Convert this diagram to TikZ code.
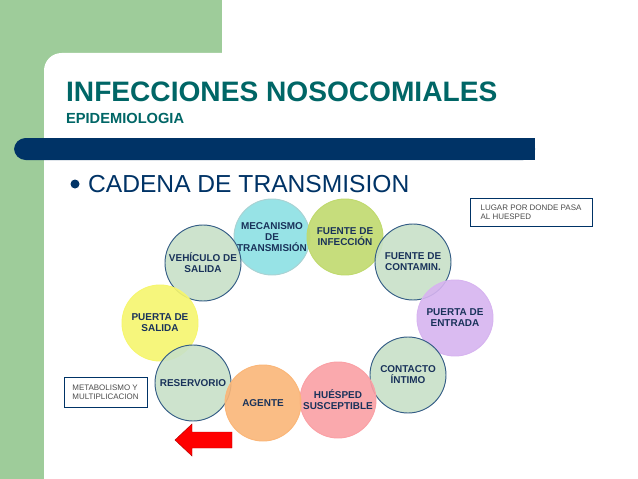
\documentclass[tikz,border=0pt]{standalone}
\usepackage{fontspec}
\setmainfont{Liberation Sans}
\definecolor{sidegreen}{RGB}{158,204,154}
\definecolor{titleteal}{RGB}{0,102,102}
\definecolor{barblue}{RGB}{0,51,102}
\definecolor{ringtext}{RGB}{25,50,90}
\definecolor{palegreen}{RGB}{200,225,200}
\definecolor{mecfill}{RGB}{140,225,228}
\definecolor{finfill}{RGB}{192,218,110}
\definecolor{psafill}{RGB}{246,246,110}
\definecolor{penfill}{RGB}{215,180,240}
\definecolor{huefill}{RGB}{250,160,165}
\definecolor{agefill}{RGB}{250,182,120}
\tikzstyle{ring} = [circle, minimum size=2.28cm, inner sep=0pt, align=center, font=\bfseries\fontsize{8.5}{9.5}\selectfont, text=ringtext, fill opacity=0.9, text opacity=1, line width=0.8pt]
\tikzstyle{plain} = [ring, draw=barblue!80, fill=palegreen]
\tikzstyle{note} = [draw=barblue, line width=0.6pt, align=left, inner sep=3pt, font=\fontsize{6.8}{7.8}\selectfont, text=black!70]

\begin{document}
\begin{tikzpicture}[x=0.03cm, y=-0.03cm]
\useasboundingbox (0,0) rectangle (638,479);

% background
\fill[sidegreen] (0,0) rectangle (222,200);
\fill[sidegreen] (0,0) rectangle (50,479);
\fill[white, rounded corners=15] (44,53) rectangle (660,500);
\fill[barblue, rounded corners=10] (14,138) rectangle (535,160);
\fill[barblue] (30,138) rectangle (535,160);

% titles
\node (title) [anchor=west, text=titleteal, font=\bfseries\fontsize{24}{26}\selectfont] at (62,92) {INFECCIONES NOSOCOMIALES};
\node (sub) [anchor=west, text=titleteal, font=\bfseries\fontsize{12.5}{14}\selectfont] at (62,118) {EPIDEMIOLOGIA};
\fill[barblue] (75,184) circle (4.5);
\node (head) [anchor=west, text=barblue, font=\fontsize{21}{24}\selectfont] at (84,184) {CADENA DE TRANSMISION};

% chain
\node (mec) [ring, draw=mecfill!80!black!60, fill=mecfill] at (272,237) {MECANISMO\\DE\\TRANSMISIÓN};
\node (fin) [ring, draw=finfill, fill=finfill] at (345,237) {FUENTE DE\\INFECCIÓN};
\node (veh) [plain] at (203,263) {VEHÍCULO DE\\SALIDA};
\node (fco) [plain] at (413,262) {FUENTE DE\\CONTAMIN.};
\node (psa) [ring, draw=psafill, fill=psafill] at (160,323) {PUERTA DE\\SALIDA};
\node (pen) [ring, draw=penfill, fill=penfill] at (455,318) {PUERTA DE\\ENTRADA};
\node (con) [plain] at (408,375) {CONTACTO\\ÍNTIMO};
\node (res) [plain] at (193,383) {RESERVORIO};
\node (hue) [ring, draw=huefill, fill=huefill] at (338,400) {HUÉSPED\\SUSCEPTIBLE};
\node (age) [ring, draw=agefill, fill=agefill] at (263,403) {AGENTE};

% notes
\node (lugar) [note, minimum width=3.66cm, minimum height=0.84cm] at (531,212) {LUGAR POR DONDE PASA\\AL HUESPED};
\node (meta) [note, minimum width=2.49cm, minimum height=0.9cm] at (105.5,392) {METABOLISMO Y\\MULTIPLICACION};

% arrow
\coordinate (tip) at (175,440);
\fill[red, draw=red!70!black] (tip) -- (192,424) -- (192,432) -- (232,432) -- (232,448) -- (192,448) -- (192,456) -- cycle;
\end{tikzpicture}
\end{document}
